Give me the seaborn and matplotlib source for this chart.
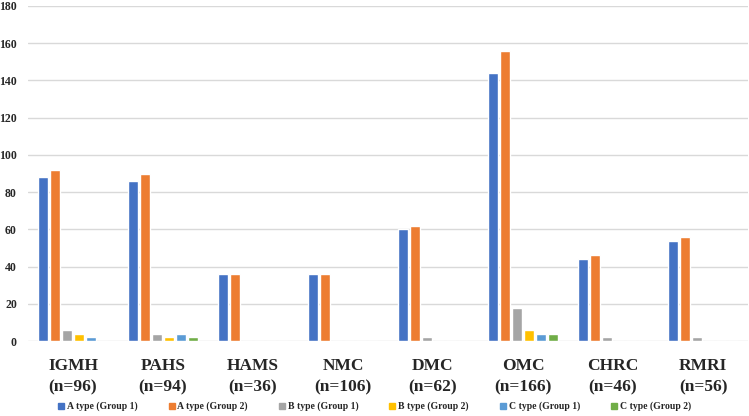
import matplotlib
matplotlib.use("Agg")
import matplotlib.pyplot as plt
from matplotlib.lines import Line2D
import pandas as pd
import seaborn as sns

centres = ["IGMH\n(n=96)", "PAHS\n(n=94)", "HAMS\n(n=36)", "NMC\n(n=106)",
           "DMC\n(n=62)", "OMC\n(n=166)", "CHRC\n(n=46)", "RMRI\n(n=56)"]
series = ["A type (Group 1)", "A type (Group 2)", "B type (Group 1)",
          "B type (Group 2)", "C type (Group 1)", "C type (Group 2)"]

a_g1 = [88, 86, 36, 36, 60, 144, 44, 54]
a_g2 = [92, 90, 36, 36, 62, 156, 46, 56]
b_g1 = [6, 4, 0, 0, 2, 18, 2, 2]
b_g2 = [4, 2, 0, 0, 0, 6, 0, 0]
c_g1 = [2, 4, 0, 0, 0, 4, 0, 0]
c_g2 = [0, 2, 0, 0, 0, 4, 0, 0]

colors = ["#4472C4", "#ED7D31", "#A5A5A5", "#FFC000", "#5B9BD5", "#70AD47"]

rows = []
for name, vals in zip(series, [a_g1, a_g2, b_g1, b_g2, c_g1, c_g2]):
    for c, v in zip(centres, vals):
        rows.append({"centre": c, "series": name, "count": v})
df = pd.DataFrame(rows)

sns.set_theme(style="white")
plt.rcParams["font.family"] = ["Liberation Serif", "DejaVu Serif"]
plt.rcParams["font.weight"] = "bold"

fig = plt.figure(figsize=(7.49, 4.16), dpi=100)
ax = fig.add_axes([28 / 749, 75 / 416, 720 / 749, 335 / 416])

sns.barplot(data=df, x="centre", y="count", hue="series", order=centres,
            hue_order=series, palette=colors, width=0.8, gap=0.15,
            saturation=1, errorbar=None, legend=False, ax=ax)

ax.set_ylim(0, 180)
ax.set_yticks(range(0, 181, 20))
ax.set_xlim(-0.5, len(centres) - 0.5)
ax.grid(axis="y", color="#D9D9D9", linewidth=1)
ax.set_axisbelow(True)
for s in ax.spines.values():
    s.set_visible(False)
ax.set_xlabel("")
ax.set_ylabel("")
ax.tick_params(axis="y", length=0, pad=8, labelsize=8.5)
ax.tick_params(axis="x", length=0, pad=12, labelsize=12.5)
for lbl in ax.get_xticklabels():
    lbl.set_fontweight("bold")
    lbl.set_linespacing(1.45)
for lbl in ax.get_yticklabels():
    lbl.set_fontweight("bold")

handles = [Line2D([], [], marker="s", linestyle="none", markersize=4.5,
                  markerfacecolor=col, markeredgecolor=col) for col in colors]
fig.legend(handles, series, loc="lower center", bbox_to_anchor=(0.5, -0.01),
           ncol=6, frameon=False, handlelength=0.6, handletextpad=0.3,
           columnspacing=3.2, prop={"weight": "bold", "size": 7})

fig.savefig("out.png", dpi=100)
